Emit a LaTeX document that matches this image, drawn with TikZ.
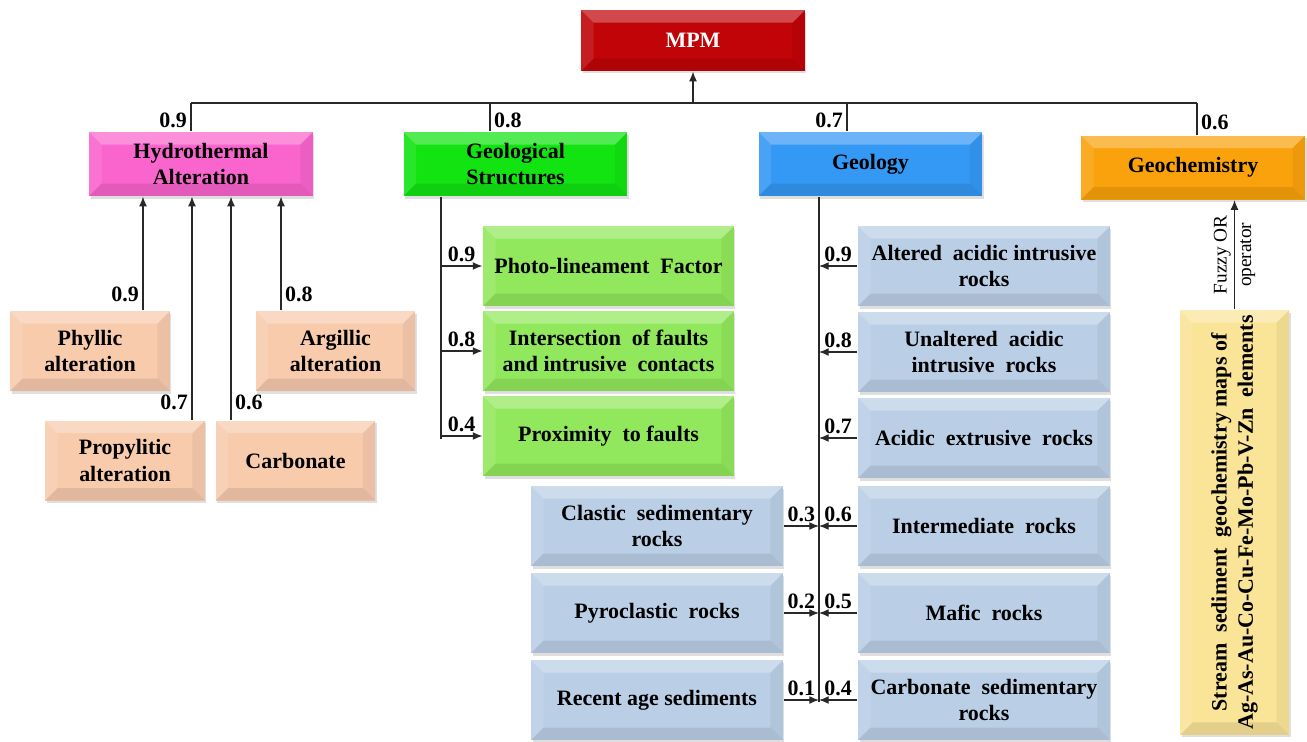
\documentclass[tikz,border=0pt]{standalone}
\usepackage{fontspec}
\setmainfont{Liberation Serif}
\usepackage{graphicx}
\usetikzlibrary{arrows.meta,shadows,calc}

\definecolor{mpmred}{RGB}{192,4,8}
\definecolor{hydpink}{RGB}{250,100,205}
\definecolor{gsgreen}{RGB}{18,228,18}
\definecolor{geoblue}{RGB}{52,152,245}
\definecolor{gchorange}{RGB}{250,162,12}
\definecolor{peach}{RGB}{248,203,173}
\definecolor{lgreen}{RGB}{146,232,92}
\definecolor{lblue}{RGB}{186,207,230}
\definecolor{lyellow}{RGB}{250,228,152}
\definecolor{linegray}{RGB}{40,40,40}

\tikzset{
  bev/.style={path picture={
    \coordinate (sw) at (path picture bounding box.south west);
    \coordinate (ne) at (path picture bounding box.north east);
    \coordinate (nw) at (sw |- ne);
    \coordinate (se) at (ne |- sw);
    \fill[white,opacity=.28] (nw) -- (ne) -- ($(ne)+(-.25cm,-.25cm)$) -- ($(nw)+(.25cm,-.25cm)$) -- cycle;
    \fill[white,opacity=.1] (nw) -- (sw) -- ($(sw)+(.25cm,.25cm)$) -- ($(nw)+(.25cm,-.25cm)$) -- cycle;
    \fill[black,opacity=.05] (ne) -- (se) -- ($(se)+(-.25cm,.25cm)$) -- ($(ne)+(-.25cm,-.25cm)$) -- cycle;
    \fill[black,opacity=.09] (sw) -- (se) -- ($(se)+(-.25cm,.25cm)$) -- ($(sw)+(.25cm,.25cm)$) -- cycle;
  }},
}

\begin{document}
\begin{tikzpicture}[x=.02cm,y=-.02cm,line width=.7pt,draw=linegray,
  box/.style={bev,drop shadow={shadow xshift=.03cm,shadow yshift=-.05cm,opacity=.25},
    font=\fontsize{12.5}{15}\selectfont\bfseries,align=center,inner sep=2pt},
  head/.style={box,minimum width=4.48cm,minimum height=1.28cm},
  alt/.style={box,fill=peach,minimum width=3.2cm,minimum height=1.6cm},
  struct/.style={box,fill=lgreen,minimum width=5.02cm,minimum height=1.6cm},
  rock/.style={box,fill=lblue,minimum width=5.04cm,minimum height=1.6cm},
  arr/.style={-{Latex[length=5.5pt,width=4.5pt]}},
  wt/.style={font=\fontsize{12.5}{14}\selectfont\bfseries,inner sep=2pt}]
  \useasboundingbox (0,0) rectangle (1307,741);

  \node[box,fill=mpmred,text=white,minimum width=4.48cm,minimum height=1.22cm] (mpm) at (693,40.5) {MPM};
  \node[head,fill=hydpink] (hydro) at (201,164) {Hydrothermal\\Alteration};
  \node[head,fill=gsgreen] (gs) at (515.5,164) {Geological\\Structures};
  \node[head,fill=geoblue] (geol) at (870.5,164) {Geology};
  \node[head,fill=gchorange] (geoch) at (1193,167.5) {Geochemistry};

  \coordinate (b1) at (191,103);
  \coordinate (b2) at (490,103);
  \coordinate (b3) at (847,103);
  \coordinate (b4) at (1197,103);
  \draw (b1) -- (b4);
  \draw[arr] (mpm.south |- b1) -- (mpm.south);
  \draw (b1) -- (b1 |- hydro.north) node[midway,left,wt,yshift=-2pt] {0.9};
  \draw (b2) -- (b2 |- gs.north) node[midway,right,wt,yshift=-2pt] {0.8};
  \draw (b3) -- (b3 |- geol.north) node[midway,left,wt,yshift=-2pt] {0.7};
  \draw (b4) -- (b4 |- geoch.north) node[midway,right,wt,yshift=-2pt] {0.6};

  \node[alt] (phyl) at (90,351) {Phyllic\\alteration};
  \node[alt] (argi) at (335.5,351) {Argillic\\alteration};
  \node[alt] (prop) at (125,460.5) {Propylitic\\alteration};
  \node[alt] (carb) at (295.5,460.5) {Carbonate};
  \draw[arr] ([xshift=1.06cm]phyl.north) -- ([xshift=1.06cm]phyl.north |- hydro.south) node[pos=.14,left,wt] {0.9};
  \draw[arr] ([xshift=1.34cm]prop.north) -- ([xshift=1.34cm]prop.north |- hydro.south) node[pos=.08,left,wt] {0.7};
  \draw[arr] ([xshift=-1.29cm]carb.north) -- ([xshift=-1.29cm]carb.north |- hydro.south) node[pos=.08,right,wt] {0.6};
  \draw[arr] ([xshift=-1.09cm]argi.north) -- ([xshift=-1.09cm]argi.north |- hydro.south) node[pos=.14,right,wt] {0.8};

  \node[struct] (photo) at (608.5,266) {Photo-lineament \ Factor};
  \node[struct] (inter) at (608.5,351) {Intersection \ of faults\\and intrusive \ contacts};
  \node[struct] (prox) at (608.5,436) {Proximity \ to faults};
  \coordinate (gsl) at (441,439);
  \draw (gs.south -| gsl) -- (gsl);
  \draw[arr] (photo.west -| gsl) -- (photo.west) node[midway,above,wt] {0.9};
  \draw[arr] (inter.west -| gsl) -- (inter.west) node[midway,above,wt] {0.8};
  \draw[arr] (prox.west -| gsl) -- (prox.west) node[midway,above,wt] {0.4};

  \node[rock] (altr) at (984,266) {Altered \ acidic intrusive\\rocks};
  \node[rock] (unalt) at (984,352) {Unaltered \ acidic\\intrusive \ rocks};
  \node[rock] (acid) at (984,438) {Acidic \ extrusive \ rocks};
  \node[rock] (intm) at (984,526) {Intermediate \ rocks};
  \node[rock] (maf) at (984,613) {Mafic \ rocks};
  \node[rock] (csed) at (984,700) {Carbonate \ sedimentary\\rocks};
  \node[rock] (clas) at (657,526) {Clastic \ sedimentary\\rocks};
  \node[rock] (pyro) at (657,613) {Pyroclastic \ rocks};
  \node[rock] (rec) at (657,700) {Recent age sediments};
  \coordinate (gl) at (819,702);
  \draw (geol.south -| gl) -- (gl);
  \draw[arr] (altr.west) -- (altr.west -| gl) node[midway,above,wt] {0.9};
  \draw[arr] (unalt.west) -- (unalt.west -| gl) node[midway,above,wt] {0.8};
  \draw[arr] (acid.west) -- (acid.west -| gl) node[midway,above,wt] {0.7};
  \draw[arr] (intm.west) -- (intm.west -| gl) node[midway,above,wt] {0.6};
  \draw[arr] (maf.west) -- (maf.west -| gl) node[midway,above,wt] {0.5};
  \draw[arr] (csed.west) -- (csed.west -| gl) node[midway,above,wt] {0.4};
  \draw[arr] (clas.east) -- (clas.east -| gl) node[midway,above,wt] {0.3};
  \draw[arr] (pyro.east) -- (pyro.east -| gl) node[midway,above,wt] {0.2};
  \draw[arr] (rec.east) -- (rec.east -| gl) node[midway,above,wt] {0.1};

  \node[box,fill=lyellow,minimum width=2.18cm,minimum height=8.5cm] (stream) at (1234.5,522.5)
    {\rotatebox{90}{\begin{tabular}{@{}c@{}}Stream \ sediment \ geochemistry maps of\\Ag-As-Au-Co-Cu-Fe-Mo-Pb-V-Zn \ elements\end{tabular}}};
  \draw[arr] (stream.north) -- (stream.north |- geoch.south)
    node[midway,rotate=90,align=center,font=\fontsize{11}{14}\selectfont,inner sep=0pt] {Fuzzy OR\\operator};
\end{tikzpicture}
\end{document}
